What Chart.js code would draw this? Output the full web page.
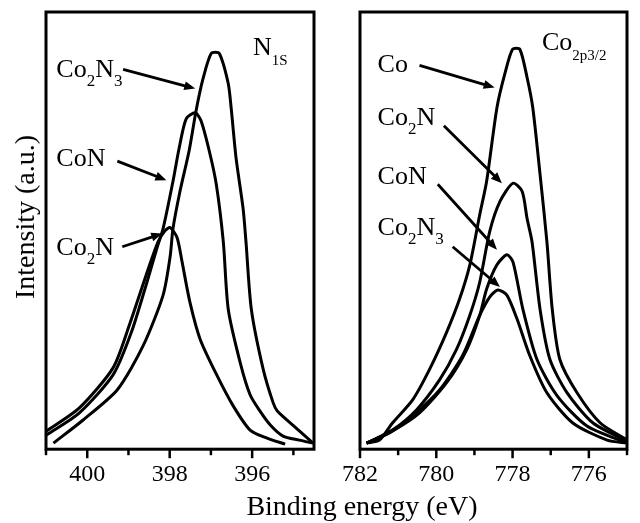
<!DOCTYPE html>
<html><head><meta charset="utf-8">
<script src="https://cdn.jsdelivr.net/npm/chart.js@4.4.1/dist/chart.umd.min.js"></script>
<style>
html,body{margin:0;padding:0;background:#fff;}
#wrap{position:relative;width:640px;height:523px;overflow:hidden;font-family:"Liberation Serif","Times New Roman",serif;color:#000;}
canvas{position:absolute;left:0;top:0;}
#xt{position:absolute;left:362px;top:492px;transform:translateX(-50%);font-size:28px;line-height:28px;white-space:nowrap;}
#yt{position:absolute;left:25px;top:217px;transform:translate(-50%,-50%) rotate(-90deg);font-size:28px;line-height:28px;white-space:nowrap;}
</style></head>
<body>
<div id="wrap">
<canvas id="c1" width="640" height="523"></canvas>
<canvas id="c2" width="640" height="523"></canvas>
<div id="xt">Binding energy (eV)</div>
<div id="yt">Intensity (a.u.)</div>
</div>
<script>
// ---- N 1s panel (left) ----
const n1sTicks = [401, 400, 399, 398, 397, 396, 395];
const n1sLabels = [400, 398, 396];
const n1sCo2N3E = [400.82,400.10,399.27,398.64,398.16,397.99,397.92,397.75,397.53,397.36,397.19,396.99,396.80,396.58,396.51,396.39,396.22,396.15,396.02,395.73,395.49,395.39,394.96,394.52];
const n1sCo2N3I = [3,26,56,100,150,188,216,253,293,333,365,390,390,360,336,286,236,203,136,76,43,35,19,3];
const n1sCoNE = [400.99,400.19,399.37,398.93,398.55,398.30,398.16,397.92,397.77,397.60,397.38,397.24,397.04,396.87,396.70,396.58,396.29,396.05,395.83,395.56,395.25,394.86,394.52];
const n1sCoNI = [11,33,71,113,163,198,216,263,296,325,331,323,293,260,203,136,83,51,36,21,10,6,3];
const n1sCo2NE = [400.99,400.19,399.37,398.98,398.57,398.28,398.11,397.99,397.82,397.70,397.51,397.26,396.85,396.46,396.05,395.64,395.20];
const n1sCo2NI = [15,38,78,120,170,203,214,217,207,183,143,106,70,40,16,8,2];

// ---- Co 2p3/2 panel (right) ----
const co2pTicks = [782, 781, 780, 779, 778, 777, 776, 775];
const co2pLabels = [782, 780, 778, 776];
const co2pCoE = [781.83,781.49,781.15,780.62,780.18,779.73,779.39,779.12,778.86,778.68,778.41,778.20,778.00,777.81,777.62,777.47,777.28,777.10,776.96,776.76,776.31,775.70,774.99];
const co2pCoI = [3,6,23,46,76,113,146,180,230,263,336,370,394,394,366,336,270,203,136,86,53,23,6];
const co2pCo2NE = [781.83,781.15,780.52,779.91,779.47,779.12,778.86,778.60,778.33,777.99,777.75,777.62,777.49,777.28,777.02,776.57,775.89,774.99];
const co2pCo2NI = [3,16,36,66,96,130,163,213,243,261,253,226,203,136,86,53,23,5];
const co2pCoNE = [781.83,781.15,780.44,779.73,779.20,778.86,778.68,778.41,778.15,777.99,777.73,777.36,776.83,776.05,774.99];
const co2pCoNI = [3,15,33,63,96,130,156,180,190,183,136,86,50,20,3];
const co2pCo2N3E = [781.83,781.23,780.62,779.91,779.31,778.86,778.60,778.39,778.15,777.88,777.55,777.10,776.42,775.52,774.99];
const co2pCo2N3I = [3,13,30,56,90,130,148,155,150,126,90,53,23,6,3];

// annotation texts (parts starting with "_" are subscripts), anchored in data units
const n1sNotes = [
  {e:400.75, h:366, parts:['Co','_2','N','_3']},
  {e:400.75, h:278, parts:['CoN']},
  {e:400.75, h:190, parts:['Co','_2','N']},
  {e:395.98, h:388, parts:['N','_1S'], small:true}
];
const n1sArrows = [[399.13,374,397.38,355],[399.27,283,398.08,264],[399.15,198,398.18,211]];
const co2pNotes = [
  {e:781.54, h:371, parts:['Co']},
  {e:781.54, h:319, parts:['Co','_2','N']},
  {e:781.54, h:260, parts:['CoN']},
  {e:781.54, h:210, parts:['Co','_2','N','_3']},
  {e:777.23, h:393, parts:['Co','_2p3/2'], small:true}
];
const co2pArrows = [[780.44,378,778.47,356],[779.80,318,778.28,261],[779.96,260,778.41,195],[779.57,198,778.33,158]];

const FONT = '"Liberation Serif","Times New Roman",serif';

function pts(E, I){ return E.map((e,i)=>({x:e, y:I[i]})); }

const framePlugin = {
  id:'frame',
  afterDatasetsDraw(chart, args, opts){
    const {ctx, chartArea:a, scales:{x, y}} = chart;
    ctx.save();
    ctx.strokeStyle = '#000';
    ctx.lineWidth = 3;
    ctx.strokeRect(a.left, a.top, a.right - a.left, a.bottom - a.top);
    ctx.lineWidth = 2.5;
    for (const t of x.ticks){
      const px = x.getPixelForValue(t.value);
      const len = opts.major.includes(t.value) ? 9 : 6;
      ctx.beginPath(); ctx.moveTo(px, a.bottom); ctx.lineTo(px, a.bottom + len); ctx.stroke();
    }
    // arrows
    ctx.fillStyle = '#000';
    for (const ar of opts.arrows){
      const x1 = x.getPixelForValue(ar[0]), y1 = y.getPixelForValue(ar[1]);
      const x2 = x.getPixelForValue(ar[2]), y2 = y.getPixelForValue(ar[3]);
      const ang = Math.atan2(y2 - y1, x2 - x1);
      const L = 11, W = 4.5;
      ctx.lineWidth = 2.8;
      ctx.beginPath(); ctx.moveTo(x1, y1);
      ctx.lineTo(x2 - Math.cos(ang)*L*0.8, y2 - Math.sin(ang)*L*0.8); ctx.stroke();
      ctx.beginPath();
      ctx.moveTo(x2, y2);
      ctx.lineTo(x2 - Math.cos(ang)*L + Math.sin(ang)*W, y2 - Math.sin(ang)*L - Math.cos(ang)*W);
      ctx.lineTo(x2 - Math.cos(ang)*L - Math.sin(ang)*W, y2 - Math.sin(ang)*L + Math.cos(ang)*W);
      ctx.closePath(); ctx.fill();
    }
    // labels
    ctx.textBaseline = 'alphabetic';
    ctx.textAlign = 'left';
    for (const n of opts.notes){
      let px = x.getPixelForValue(n.e);
      const py = y.getPixelForValue(n.h);
      for (const p of n.parts){
        if (p.startsWith('_')){
          ctx.font = (n.small ? 15 : 17) + 'px ' + FONT;
          const s = p.slice(1);
          ctx.fillText(s, px, py + (n.small ? 10 : 9));
          px += ctx.measureText(s).width;
        } else {
          ctx.font = '26px ' + FONT;
          ctx.fillText(p, px, py);
          px += ctx.measureText(p).width;
        }
      }
    }
    ctx.restore();
  }
};

function makePanel(id, min, max, ticks, labels, series, notes, arrows, pad){
  return new Chart(document.getElementById(id), {
    type:'scatter',
    data:{ datasets: series.map(s => ({
      data: s, showLine:true, borderColor:'#000', borderWidth:3,
      pointRadius:0, tension:0.25, fill:false
    }))},
    options:{
      responsive:false, animation:false, devicePixelRatio:1,
      layout:{ padding: pad },
      plugins:{ legend:{display:false}, tooltip:{enabled:false},
        frame:{ major: labels, notes: notes, arrows: arrows } },
      scales:{
        x:{ type:'linear', reverse:true, min:min, max:max,
          afterBuildTicks: s => { s.ticks = ticks.map(v => ({value:v})); },
          ticks:{ autoSkip:false, maxRotation:0, color:'#000', padding:3,
            font:{family:FONT, size:24},
            callback: v => labels.includes(v) ? String(v) : '' },
          grid:{ display:true, drawOnChartArea:false, drawTicks:true, tickLength:8, tickColor:'rgba(0,0,0,0)' },
          border:{ display:false }
        },
        y:{ display:false, min:-3, max:431 }
      }
    },
    plugins:[framePlugin]
  });
}

makePanel('c1', 394.5, 401, n1sTicks, n1sLabels,
  [pts(n1sCo2N3E, n1sCo2N3I), pts(n1sCoNE, n1sCoNI), pts(n1sCo2NE, n1sCo2NI)],
  n1sNotes, n1sArrows, {left:46, right:326, top:12, bottom:31});
makePanel('c2', 775, 782, co2pTicks, co2pLabels,
  [pts(co2pCoE, co2pCoI), pts(co2pCo2NE, co2pCo2NI), pts(co2pCoNE, co2pCoNI), pts(co2pCo2N3E, co2pCo2N3I)],
  co2pNotes, co2pArrows, {left:360, right:13, top:12, bottom:31});
</script>
</body></html>
